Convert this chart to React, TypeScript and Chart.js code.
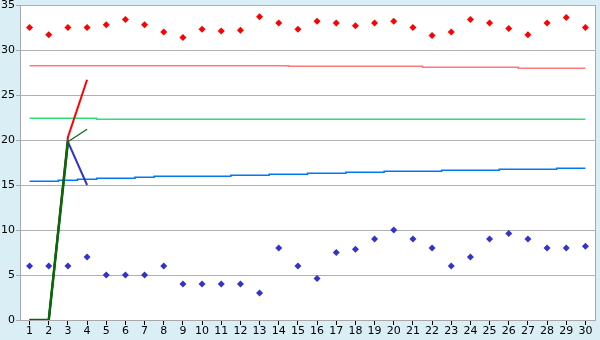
import React, { useEffect, useRef } from "react";
import { Chart, registerables } from "chart.js";
Chart.register(...registerables);

const categories = ["1","2","3","4","5","6","7","8","9","10","11","12","13","14","15","16","17","18","19","20","21","22","23","24","25","26","27","28","29","30"];

const redPoints = [32.5,31.7,32.5,32.5,32.8,33.4,32.8,32.0,31.4,32.3,32.1,32.2,33.7,33.0,32.3,33.2,33.0,32.7,33.0,33.2,32.5,31.6,32.0,33.4,33.0,32.4,31.7,33.0,33.6,32.5];
const bluePoints = [6,6,6,7,5,5,5,6,4,4,4,4,3,8,6,4.6,7.5,7.85,9,10,9,8,6,7,9,9.6,9,8,8,8.2];

const salmonTrend = [28.26,28.26,28.26,28.26,28.26,28.26,28.26,28.26,28.26,28.26,28.26,28.26,28.26,28.26,28.19,28.19,28.19,28.19,28.19,28.19,28.19,28.08,28.08,28.08,28.08,28.08,27.97,27.97,27.97,27.97];
const greenTrend = [22.41,22.41,22.41,22.41,22.3,22.3,22.3,22.3,22.3,22.3,22.3,22.3,22.3,22.3,22.3,22.3,22.3,22.3,22.3,22.3,22.3,22.3,22.3,22.3,22.3,22.3,22.3,22.3,22.3,22.3];
const blueTrend = [15.41,15.41,15.52,15.63,15.74,15.74,15.86,15.97,15.97,15.97,15.97,16.07,16.07,16.19,16.19,16.30,16.30,16.41,16.41,16.52,16.52,16.52,16.63,16.63,16.63,16.74,16.74,16.74,16.86,16.86];

const redLine = [0,0,20.3,26.7];
const blueLine = [0,0,19.8,15.0];
const greenThick = [0,0,19.8,null];
const greenThin = [null,null,19.8,21.2];

const yTicks = [0,5,10,15,20,25,30,35];

export default function App() {
  const ref = useRef<HTMLCanvasElement>(null);
  useEffect(() => {
    document.body.style.margin = "0";
    const canvas = ref.current!;
    const bgPlugin = {
      id: "bgPlugin",
      beforeDraw(chart: any) {
        const c = chart.ctx;
        const a = chart.chartArea;
        c.save();
        c.fillStyle = "#daeef5";
        c.fillRect(0, 0, chart.width, chart.height);
        c.fillStyle = "#ffffff";
        c.fillRect(a.left, a.top, a.right - a.left, a.bottom - a.top);
        c.restore();
      },
      afterDraw(chart: any) {
        const c = chart.ctx;
        const a = chart.chartArea;
        c.save();
        c.strokeStyle = "#a8a8a8";
        c.lineWidth = 1;
        c.beginPath();
        c.moveTo(Math.round(a.right) + 0.5, a.top);
        c.lineTo(Math.round(a.right) + 0.5, a.bottom);
        c.stroke();
        c.restore();
      },
    };
    const lineDs = (data: any[], color: string, width: number) => ({
      type: "line" as const,
      data,
      borderColor: color,
      backgroundColor: color,
      borderWidth: width,
      pointRadius: 0,
      fill: false,
      tension: 0,
      spanGaps: false,
    });
    const trendDs = (data: number[], color: string) => ({
      type: "line" as const,
      data,
      borderColor: color,
      backgroundColor: color,
      borderWidth: 1.5,
      pointRadius: 0,
      fill: false,
      stepped: "middle" as const,
    });
    const pointDs = (data: number[], color: string) => ({
      type: "line" as const,
      data,
      showLine: false,
      borderColor: color,
      backgroundColor: color,
      pointStyle: "rectRot" as const,
      pointRadius: 3.5,
      pointBorderWidth: 0,
    });
    const chart = new Chart(canvas, {
      type: "line",
      data: {
        labels: categories,
        datasets: [
          lineDs(greenThick, "#006e00", 2.5),
          lineDs(greenThin, "#006e00", 1.2),
          lineDs(blueLine, "#3333cc", 2),
          lineDs(redLine, "#ff0000", 2),
          pointDs(redPoints, "#ff0000"),
          pointDs(bluePoints, "#3333cc"),
          trendDs(salmonTrend, "#ff7878"),
          trendDs(greenTrend, "#2edf78"),
          trendDs(blueTrend, "#0078f0"),
        ] as any,
      },
      options: {
        responsive: false,
        animation: false,
        layout: { padding: { top: 5, right: 5, left: 0, bottom: 0 } },
        plugins: { legend: { display: false }, tooltip: { enabled: false } },
        scales: {
          x: {
            offset: true,
            grid: { drawOnChartArea: false, drawTicks: true, tickLength: 5, tickColor: "#000", offset: false },
            border: { color: "#a8a8a8" },
            ticks: {
              autoSkip: false,
              maxRotation: 0,
              padding: 0,
              color: "#000",
              font: { family: "DejaVu Sans", size: 11 },
            },
            afterFit(scale: any) {
              scale.height = 20;
              scale.paddingLeft = 0;
              scale.paddingRight = 0;
            },
          },
          y: {
            min: 0,
            max: 35,
            afterBuildTicks(scale: any) {
              scale.ticks = yTicks.map((v) => ({ value: v }));
            },
            grid: { color: "#b0b0b0", tickLength: 4, tickColor: "#a8a8a8" },
            border: { color: "#a8a8a8" },
            ticks: {
              padding: 1,
              color: "#000",
              font: { family: "DejaVu Sans", size: 11 },
            },
            afterFit(scale: any) {
              scale.width = 20;
              scale.paddingTop = 0;
              scale.paddingBottom = 0;
            },
          },
        },
      },
      plugins: [bgPlugin],
    });
    return () => chart.destroy();
  }, []);
  return <canvas ref={ref} width={600} height={340} style={{ display: "block" }} />;
}
